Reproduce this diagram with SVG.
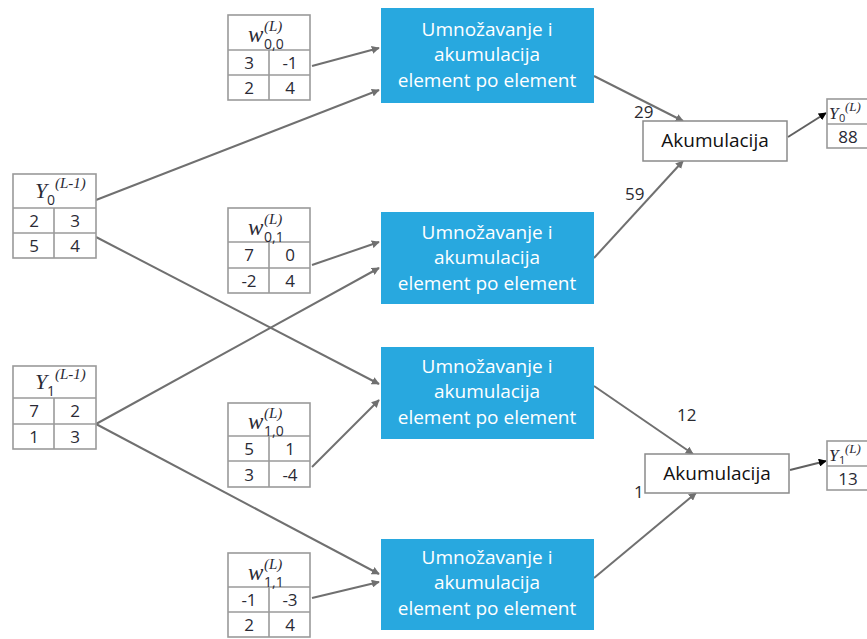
<svg xmlns="http://www.w3.org/2000/svg" width="867" height="639" viewBox="0 0 867 639">
<style>
.tb{fill:#fff;stroke:#9a9a9a;stroke-width:1.6}
.ln{stroke:#9a9a9a;stroke-width:1.6}
.num{font-family:"Open Sans","Liberation Sans",sans-serif;font-size:17px;fill:#2a2a35;text-anchor:middle}
.mi{font-family:"Liberation Serif",serif;font-style:italic;fill:#2a2a35}
.sub{font-family:"Open Sans","Liberation Sans",sans-serif;fill:#2a2a35}
.blue{fill:#28a8df}
.bt{font-family:"Open Sans","Liberation Sans",sans-serif;font-size:19px;fill:#fff;text-anchor:middle}
.acc{fill:#fff;stroke:#8a8a8a;stroke-width:1.5}
.at{font-family:"Open Sans","Liberation Sans",sans-serif;font-size:19px;fill:#111;text-anchor:middle}
.c{stroke:#707070;stroke-width:2;fill:none}
.c2{stroke:#606060;stroke-width:2;fill:none}
.lbl{font-family:"Open Sans","Liberation Sans",sans-serif;font-size:17px;fill:#2a2a30}
</style>
<defs>
<marker id="ag" viewBox="0 0 10 10" refX="9" refY="5" markerWidth="8" markerHeight="8" orient="auto" markerUnits="userSpaceOnUse">
<path d="M0,0 L10,5 L0,10 z" fill="#707070"/></marker>
<marker id="ab" viewBox="0 0 10 10" refX="9" refY="5" markerWidth="8" markerHeight="8" orient="auto" markerUnits="userSpaceOnUse">
<path d="M0,0 L10,5 L0,10 z" fill="#000"/></marker>
</defs>

<g id="connectors">
<line class="c" x1="312" y1="66" x2="379" y2="48" marker-end="url(#ag)"/>
<line class="c" x1="96" y1="200" x2="379" y2="90" marker-end="url(#ag)"/>
<line class="c" x1="312" y1="265" x2="379" y2="242" marker-end="url(#ag)"/>
<line class="c" x1="96" y1="424" x2="379" y2="268" marker-end="url(#ag)"/>
<line class="c" x1="96" y1="237" x2="379" y2="384" marker-end="url(#ag)"/>
<line class="c" x1="312" y1="467" x2="379" y2="400" marker-end="url(#ag)"/>
<line class="c" x1="96" y1="424" x2="379" y2="574" marker-end="url(#ag)"/>
<line class="c" x1="312" y1="598" x2="379" y2="582" marker-end="url(#ag)"/>
<line class="c" x1="594" y1="76" x2="683" y2="121" marker-end="url(#ag)"/>
<line class="c" x1="594" y1="258" x2="683" y2="161" marker-end="url(#ag)"/>
<line class="c" x1="594" y1="386" x2="693" y2="454" marker-end="url(#ag)"/>
<line class="c" x1="594" y1="578" x2="696" y2="493" marker-end="url(#ag)"/>
<line class="c2" x1="788" y1="137" x2="826" y2="113" marker-end="url(#ab)"/>
<line class="c2" x1="790" y1="470" x2="826" y2="461" marker-end="url(#ab)"/>
<text class="lbl" x="634" y="118">29</text>
<text class="lbl" x="625" y="200">59</text>
<text class="lbl" x="677" y="421">12</text>
<text class="lbl" x="634" y="498">1</text>
</g>

<g id="Y0prev">
<rect class="tb" x="13" y="174" width="83" height="84"/>
<line class="ln" x1="13" y1="208" x2="96" y2="208"/>
<line class="ln" x1="13" y1="233" x2="96" y2="233"/>
<line class="ln" x1="54" y1="208" x2="54" y2="258"/>
<text class="mi" x="35" y="198" font-size="22">Y</text>
<text class="sub" x="47" y="205" font-size="14">0</text>
<text class="mi" x="55" y="188" font-size="15">(L-1)</text>
<text class="num" x="34" y="227">2</text><text class="num" x="75" y="227">3</text>
<text class="num" x="34" y="252">5</text><text class="num" x="75" y="252">4</text>
</g>

<g id="Y1prev">
<rect class="tb" x="13" y="366" width="83" height="83"/>
<line class="ln" x1="13" y1="398" x2="96" y2="398"/>
<line class="ln" x1="13" y1="424" x2="96" y2="424"/>
<line class="ln" x1="54" y1="398" x2="54" y2="449"/>
<text class="mi" x="35" y="389" font-size="22">Y</text>
<text class="sub" x="47" y="396" font-size="14">1</text>
<text class="mi" x="55" y="379" font-size="15">(L-1)</text>
<text class="num" x="34" y="417">7</text><text class="num" x="75" y="417">2</text>
<text class="num" x="34" y="443">1</text><text class="num" x="75" y="443">3</text>
</g>

<g id="w00">
<rect class="tb" x="228" y="15" width="82" height="85"/>
<line class="ln" x1="228" y1="50" x2="310" y2="50"/>
<line class="ln" x1="228" y1="75" x2="310" y2="75"/>
<line class="ln" x1="269" y1="50" x2="269" y2="100"/>
<text class="mi" x="248" y="42" font-size="23">w</text>
<text class="mi" x="264" y="31" font-size="15">(L)</text>
<text class="sub" x="264" y="49" font-size="14">0,0</text>
<text class="num" x="249" y="69">3</text><text class="num" x="290" y="69">-1</text>
<text class="num" x="249" y="94">2</text><text class="num" x="290" y="94">4</text>
</g>

<g id="w01">
<rect class="tb" x="228" y="208" width="82" height="85"/>
<line class="ln" x1="228" y1="242" x2="310" y2="242"/>
<line class="ln" x1="228" y1="268" x2="310" y2="268"/>
<line class="ln" x1="269" y1="242" x2="269" y2="293"/>
<text class="mi" x="248" y="235" font-size="23">w</text>
<text class="mi" x="264" y="224" font-size="15">(L)</text>
<text class="sub" x="264" y="242" font-size="14">0,1</text>
<text class="num" x="249" y="261">7</text><text class="num" x="290" y="261">0</text>
<text class="num" x="249" y="287">-2</text><text class="num" x="290" y="287">4</text>
</g>

<g id="w10">
<rect class="tb" x="228" y="403" width="82" height="84"/>
<line class="ln" x1="228" y1="436" x2="310" y2="436"/>
<line class="ln" x1="228" y1="461" x2="310" y2="461"/>
<line class="ln" x1="269" y1="436" x2="269" y2="487"/>
<text class="mi" x="248" y="429" font-size="23">w</text>
<text class="mi" x="264" y="418" font-size="15">(L)</text>
<text class="sub" x="264" y="436" font-size="14">1,0</text>
<text class="num" x="249" y="455">5</text><text class="num" x="290" y="455">1</text>
<text class="num" x="249" y="481">3</text><text class="num" x="290" y="481">-4</text>
</g>

<g id="w11">
<rect class="tb" x="228" y="553" width="82" height="84"/>
<line class="ln" x1="228" y1="587" x2="310" y2="587"/>
<line class="ln" x1="228" y1="612" x2="310" y2="612"/>
<line class="ln" x1="269" y1="587" x2="269" y2="637"/>
<text class="mi" x="248" y="580" font-size="23">w</text>
<text class="mi" x="264" y="569" font-size="15">(L)</text>
<text class="sub" x="264" y="587" font-size="14">1,1</text>
<text class="num" x="249" y="606">-1</text><text class="num" x="290" y="606">-3</text>
<text class="num" x="249" y="631">2</text><text class="num" x="290" y="631">4</text>
</g>

<g id="mul1">
<rect class="blue" x="381" y="8" width="213" height="95"/>
<text class="bt" x="487" y="36">Umnožavanje i</text>
<text class="bt" x="487" y="61">akumulacija</text>
<text class="bt" x="487" y="87">element po element</text>
</g>
<g id="mul2">
<rect class="blue" x="381" y="212" width="213" height="92"/>
<text class="bt" x="487" y="239">Umnožavanje i</text>
<text class="bt" x="487" y="264">akumulacija</text>
<text class="bt" x="487" y="290">element po element</text>
</g>
<g id="mul3">
<rect class="blue" x="381" y="347" width="213" height="92"/>
<text class="bt" x="487" y="373">Umnožavanje i</text>
<text class="bt" x="487" y="398">akumulacija</text>
<text class="bt" x="487" y="424">element po element</text>
</g>
<g id="mul4">
<rect class="blue" x="381" y="539" width="213" height="91"/>
<text class="bt" x="487" y="564">Umnožavanje i</text>
<text class="bt" x="487" y="589">akumulacija</text>
<text class="bt" x="487" y="615">element po element</text>
</g>

<g id="acc1">
<rect class="acc" x="643" y="121" width="144" height="40"/>
<text class="at" x="715" y="147">Akumulacija</text>
</g>
<g id="acc2">
<rect class="acc" x="645" y="454" width="144" height="39"/>
<text class="at" x="717" y="480">Akumulacija</text>
</g>

<g id="Y0out">
<rect class="tb" x="827" y="99" width="45" height="49"/>
<line class="ln" x1="827" y1="124" x2="867" y2="124"/>
<text class="mi" x="829" y="119" font-size="17">Y</text>
<text class="sub" x="839" y="122" font-size="11">0</text>
<text class="mi" x="845" y="111" font-size="13">(L)</text>
<text class="num" x="848" y="143">88</text>
</g>
<g id="Y1out">
<rect class="tb" x="827" y="441" width="45" height="49"/>
<line class="ln" x1="827" y1="466" x2="867" y2="466"/>
<text class="mi" x="829" y="461" font-size="17">Y</text>
<text class="sub" x="839" y="464" font-size="11">1</text>
<text class="mi" x="845" y="453" font-size="13">(L)</text>
<text class="num" x="848" y="485">13</text>
</g>
</svg>
